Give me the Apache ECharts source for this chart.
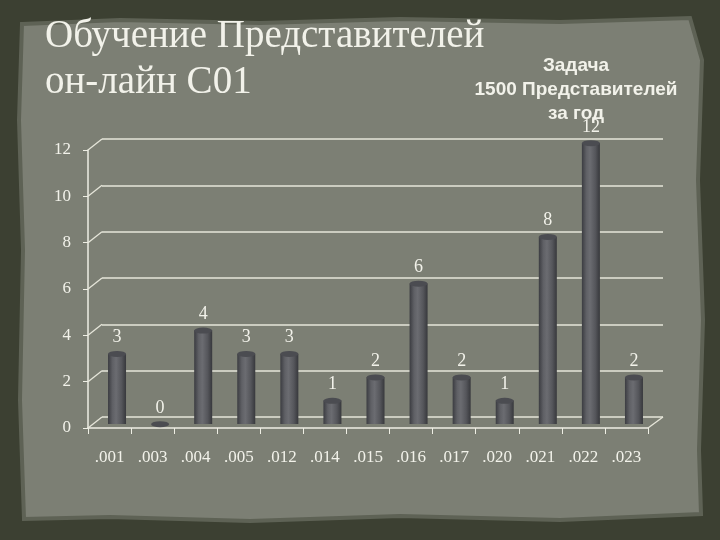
<!DOCTYPE html>
<html><head><meta charset="utf-8">
<script src="https://cdn.jsdelivr.net/npm/echarts/dist/echarts.min.js"></script>
<style>html,body{margin:0;padding:0;background:#3c4032}#c{width:720px;height:540px}</style>
</head><body><div id="c"></div>
<script>
const categories = ['.001','.003','.004','.005','.012','.014','.015','.016','.017','.020','.021','.022','.023'];
const values = [3,0,4,3,3,1,2,6,2,1,8,12,2];
const yMin = 0, yMax = 12, yInterval = 2;
const titleLines = ['Обучение Представителей','он-лайн C01'];
const noteLines = ['Задача','1500 Представителей','за год'];

const chart = echarts.init(document.getElementById('c'), null, {renderer:'canvas'});
const txt = '#f2f2ea';
const serif = '"Liberation Serif","DejaVu Serif",serif';
const barW = 18;
const barGrad = new echarts.graphic.LinearGradient(0,0,1,0,[
  {offset:0,color:'#3b3c41'},{offset:0.25,color:'#5f6065'},{offset:0.45,color:'#6b6c71'},
  {offset:0.75,color:'#55565b'},{offset:1,color:'#37383c'}]);

// paper shape (decorative background)
const paper = [[22,24],[120,20],[260,23],[400,19],[560,22],[690,18],[702,60],[698,180],[703,320],[699,450],[701,514],[560,520],[400,516],[250,521],[110,517],[24,519],[20,400],[23,250],[19,120]];

const option = {
  backgroundColor:'#3c4032',
  animation:false,
  graphic:[
    {type:'polygon',z:-10,shape:{points:paper},style:{fill:'#7c7f74',stroke:'#5e6255',lineWidth:4}},
    {type:'text',left:45,top:17,z:5,style:{text:titleLines[0],font:'39px '+serif,fill:txt}},
    {type:'text',left:45,top:63,z:5,style:{text:titleLines[1],font:'39px '+serif,fill:txt}},
    {type:'text',x:576,y:54,z:5,style:{text:noteLines.join('\n'),font:'bold 19px "Liberation Sans",Arial,sans-serif',fill:txt,align:'center',textAlign:'center',lineHeight:24}}
  ],
  grid:[
    {left:102,right:57,top:139,bottom:123},
    {left:95.5,right:64.5,top:143,bottom:116},
    {left:88,right:72,top:150,bottom:112}
  ],
  xAxis:[
    {gridIndex:0,type:'category',data:categories,show:false},
    {gridIndex:1,type:'category',data:categories,show:false},
    {gridIndex:2,type:'category',data:categories,
     axisLine:{lineStyle:{color:'#eeeee4',width:1.5}},
     axisTick:{show:true,length:6,lineStyle:{color:'#eeeee4'}},
     axisLabel:{color:txt,fontFamily:serif,fontSize:17,margin:21}}
  ],
  yAxis:[
    {gridIndex:0,type:'value',min:yMin,max:yMax,interval:yInterval,
     axisLine:{show:false},axisTick:{show:false},axisLabel:{show:false},
     splitLine:{lineStyle:{color:'#e6e6da',width:1.5}}},
    {gridIndex:1,type:'value',min:yMin,max:yMax,interval:yInterval,show:false,splitLine:{show:false}},
    {gridIndex:2,type:'value',min:yMin,max:yMax,interval:yInterval,
     axisLine:{show:true,lineStyle:{color:'#eeeee4',width:1.5}},
     axisTick:{show:true,length:5,lineStyle:{color:'#eeeee4'}},
     axisLabel:{color:txt,fontFamily:serif,fontSize:17,margin:17},
     splitLine:{show:false}}
  ],
  series:[
    {type:'bar',xAxisIndex:1,yAxisIndex:1,data:values,barWidth:barW,
     itemStyle:{color:barGrad},z:3},
    {type:'pictorialBar',xAxisIndex:1,yAxisIndex:1,data:values,symbol:'circle',
     symbolPosition:'end',symbolSize:[barW,6],symbolOffset:[0,'-50%'],
     itemStyle:{color:'#4b4c51',borderColor:'#77787c',borderWidth:0.8},z:4,
     label:{show:true,position:'top',distance:4,color:txt,fontFamily:serif,fontSize:18}}
  ]
};
chart.setOption(option);

// perspective connectors between front axis and back wall
const extra = [];
for (let v = yMin; v <= yMax; v += yInterval) {
  const yf = chart.convertToPixel({yAxisIndex:2}, v);
  const yb = chart.convertToPixel({yAxisIndex:0}, v);
  extra.push({type:'line',z:2,shape:{x1:88,y1:yf,x2:102,y2:yb},style:{stroke:'#e6e6da',lineWidth:1.3}});
}
const yf0 = chart.convertToPixel({yAxisIndex:2}, yMin);
const yb0 = chart.convertToPixel({yAxisIndex:0}, yMin);
extra.push({type:'line',z:2,shape:{x1:648,y1:yf0,x2:663,y2:yb0},style:{stroke:'#e6e6da',lineWidth:1.3}});
chart.setOption({graphic: option.graphic.concat(extra)});
</script></body></html>
